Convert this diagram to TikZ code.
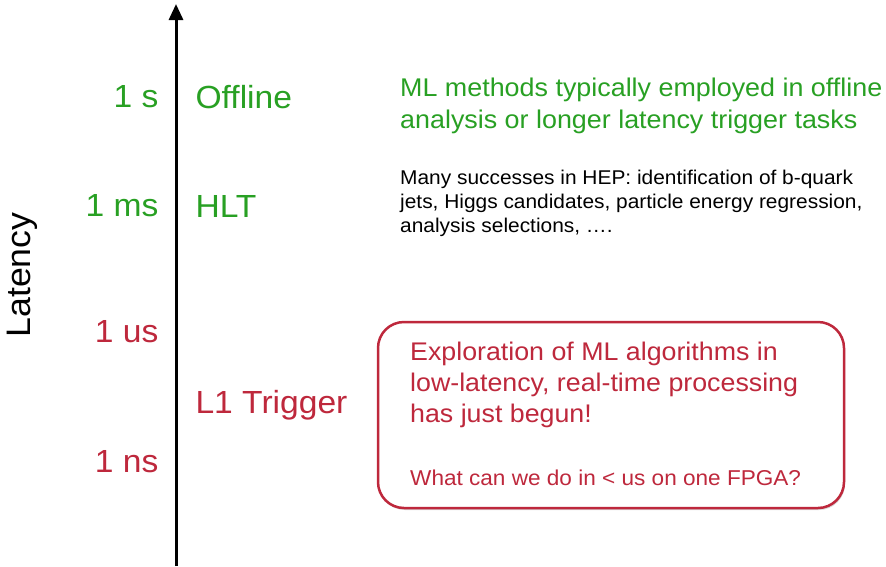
\documentclass[tikz,border=0pt]{standalone}
\usepackage{fontspec}
\setmainfont[FakeStretch=1.05]{Liberation Sans}
\usetikzlibrary{arrows.meta,shadows}
\definecolor{hepgreen}{RGB}{40,160,35}
\definecolor{hepred}{RGB}{190,40,60}
\tikzset{
  scalelbl/.style={anchor=east, font=\fontsize{32}{38}\selectfont},
  levellbl/.style={anchor=west, font=\fontsize{32}{38}\selectfont},
  infotext/.style={anchor=north west, align=left, inner sep=0pt},
}
\begin{document}
\begin{tikzpicture}[x=1pt, y=-1pt]
 \useasboundingbox (0,0) rectangle (886,566);

 % latency axis
 \coordinate (bottom) at (176,566);
 \coordinate (top) at (176,4);
 \draw [-{Triangle[length=16pt,width=14pt]}, line width=3pt] (bottom) -- (top);

 \node [rotate=90, font=\fontsize{34}{40}\selectfont] (latency) at (22,275) {Latency};

 \node [scalelbl, hepgreen] (s)  at (162,97)  {1 s};
 \node [scalelbl, hepgreen] (ms) at (162,206) {1 ms};
 \node [scalelbl, hepred]   (us) at (162,332) {1 us};
 \node [scalelbl, hepred]   (ns) at (162,462) {1 ns};

 \node [levellbl, hepgreen] (offline) at (192,97)  {Offline};
 \node [levellbl, hepgreen] (hlt)     at (192,206) {HLT};
 \node [levellbl, hepred]   (lone)    at (192,405) {L1 Trigger};

 \node [infotext, hepgreen, font=\fontsize{25.6}{32}\selectfont] (mltext) at (400,78)
   {ML methods typically employed in offline\\analysis or longer latency trigger tasks};
 \node [infotext, font=\fontsize{19.9}{24}\selectfont] (heptext) at (400,170)
   {Many successes in HEP: identification of b-quark\\jets, Higgs candidates, particle energy regression,\\analysis selections, \dots.};

 \draw [hepred, line width=2.5pt, rounded corners=26pt, fill=white,
        drop shadow={shadow xshift=1pt, shadow yshift=-2pt, opacity=0.3}]
   (378,322) rectangle (844,508);
 \node [infotext, hepred, font=\fontsize{25.5}{31}\selectfont] (boxtext) at (410,342)
   {Exploration of ML algorithms in\\low-latency, real-time processing\\has just begun!};
 \node [anchor=west, inner sep=0pt, hepred, font=\fontsize{21.5}{24}\selectfont] (fpga) at (410,478)
   {What can we do in < us on one FPGA?};
\end{tikzpicture}
\end{document}
